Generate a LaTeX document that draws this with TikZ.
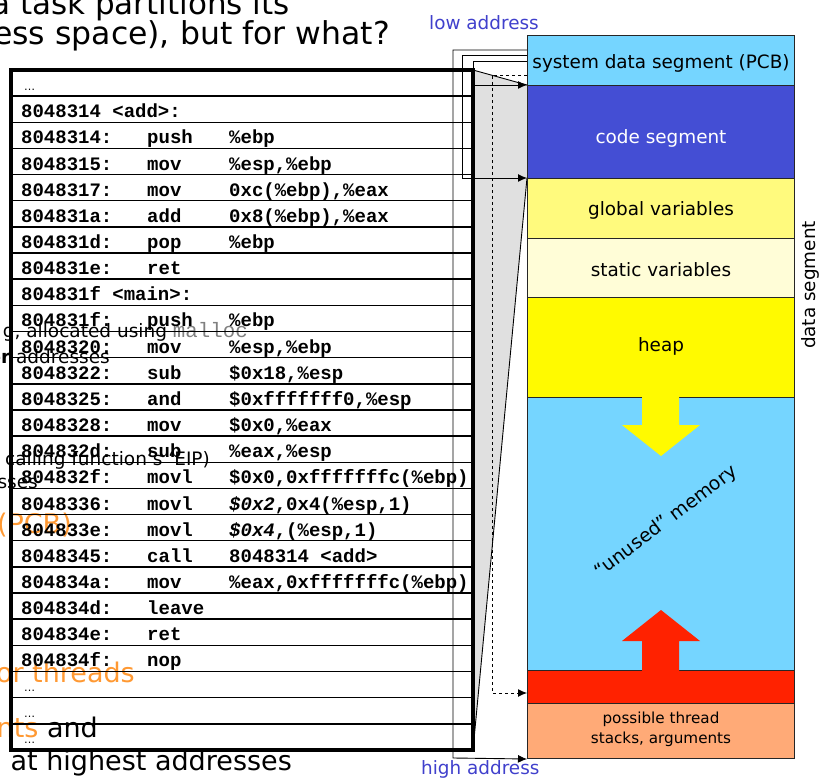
\documentclass[tikz,border=0pt]{standalone}
\usepackage{fontspec}
\setmainfont{DejaVu Sans}
\newfontfamily\codefont{Liberation Mono}
\usetikzlibrary{arrows.meta}

\definecolor{segcyan}{RGB}{117,213,255}
\definecolor{segblue}{RGB}{68,78,212}
\definecolor{segglobal}{RGB}{255,250,125}
\definecolor{segstatic}{RGB}{255,253,215}
\definecolor{segheap}{RGB}{255,250,0}
\definecolor{segred}{RGB}{255,34,0}
\definecolor{segorange}{RGB}{255,170,119}
\definecolor{addrblue}{RGB}{64,64,204}
\definecolor{slideorange}{RGB}{255,153,51}
\definecolor{calloutgray}{RGB}{224,224,224}

\tikzset{
  seg/.style={draw=black!85, line width=1pt, inner sep=0pt, minimum width=267pt,
    anchor=north west},
  seglabel/.style={inner sep=0pt, font=\fontsize{18.4}{22}\selectfont},
  codetxt/.style={anchor=base west, inner sep=0pt, font=\codefont\bfseries\fontsize{19}{22}\selectfont},
  dotstxt/.style={anchor=base west, inner sep=0pt, font=\fontsize{11}{13}\selectfont},
  slide/.style={anchor=base east, inner sep=0pt, font=\fontsize{18.5}{22}\selectfont},
  slidebig/.style={anchor=base east, inner sep=0pt, font=\fontsize{27}{32}\selectfont},
  slidetitle/.style={anchor=base east, inner sep=0pt, font=\fontsize{31}{36}\selectfont},
  addr/.style={anchor=base west, inner sep=0pt, text=addrblue, font=\fontsize{18.4}{22}\selectfont},
  link/.style={line width=0.9pt},
  tip/.style={-{Latex[length=9pt,width=8pt]}},
  rowline/.style={line width=1.5pt},
}

% listing rows: index, address, mnemonic, operands
\newcommand\coderow[4]{%
  \node[codetxt] (adr#1) at (21,{70+26.15*(#1+1)-4.5}) {#2};
  \node[codetxt] (mn#1) at (147,{70+26.15*(#1+1)-4.5}) {#3};
  \node[codetxt] (op#1) at (229,{70+26.15*(#1+1)-4.5}) {#4};
}
\newcommand\insrow[3]{%
  \node[codetxt] (adr#1) at (21,{70+26.15*(#1+1)-4.5}) {#2};
  \node[codetxt] (mn#1) at (147,{70+26.15*(#1+1)-4.5}) {#3};
}
\newcommand\labelrow[2]{%
  \node[codetxt] (lbl#1) at (21,{70+26.15*(#1+1)-4.5}) {#2};
}
\newcommand\dotsrow[1]{%
  \node[dotstxt] (dots#1) at (24,{70+26.15*(#1+1)-6}) {…};
}

\begin{document}
\begin{tikzpicture}[x=1pt,y=-1pt]
\useasboundingbox (0,0) rectangle (823,778);
\begin{scope}
\clip (0,0) rectangle (823,778);

% bullet text lying behind the listing
\node[slidetitle] (t1) at (290,15) {a task partitions its};
\node[slidetitle, font=\fontsize{31.5}{36}\selectfont] (t2) at (390,45) {ess space), but for what?};
\node[slide] (t3) at (248,338) {g, allocated using {\codefont\color{gray}\fontsize{20.8}{24}\selectfont malloc}};
\node[slide] (t4) at (110,363) {\textbf{er} addresses};
\node[slide] (t5) at (210,465) {calling function’s ‘EIP)};
\node[slide] (t6) at (38,488) {sses};
\node[slidebig, text=slideorange] (t7) at (72,533) {(PCB)};
\node[slidebig, text=slideorange] (t8) at (135,682) {or threads};
\node[slidebig] (t9) at (98,737) {\textcolor{slideorange}{nts} and};
\node[slidebig] (t10) at (292,770) {at highest addresses};

% callout wedge from the listing to the code segment
\fill[calloutgray] (473,70) -- (527,85) -- (527,178) -- (473,750) -- cycle;
\draw[link] (473,70) -- (527,85);
\draw[link] (527,178) -- (473,750);

% listing grid
\foreach \k in {1,...,25} \draw[rowline] (11,{70+26.15*\k}) -- (473,{70+26.15*\k});
\draw[line width=3.5pt] (11,70) rectangle (473,750);

% listing text
\dotsrow{0}
\labelrow{1}{8048314 <add>:}
\coderow{2}{8048314:}{push}{\%ebp}
\coderow{3}{8048315:}{mov}{\%esp,\%ebp}
\coderow{4}{8048317:}{mov}{0xc(\%ebp),\%eax}
\coderow{5}{804831a:}{add}{0x8(\%ebp),\%eax}
\coderow{6}{804831d:}{pop}{\%ebp}
\insrow{7}{804831e:}{ret}
\labelrow{8}{804831f <main>:}
\coderow{9}{804831f:}{push}{\%ebp}
\coderow{10}{8048320:}{mov}{\%esp,\%ebp}
\coderow{11}{8048322:}{sub}{\$0x18,\%esp}
\coderow{12}{8048325:}{and}{\$0xfffffff0,\%esp}
\coderow{13}{8048328:}{mov}{\$0x0,\%eax}
\coderow{14}{804832d:}{sub}{\%eax,\%esp}
\coderow{15}{804832f:}{movl}{\$0x0,0xfffffffc(\%ebp)}
\coderow{16}{8048336:}{movl}{{\itshape\$0x2},0x4(\%esp,1)}
\coderow{17}{804833e:}{movl}{{\itshape\$0x4},(\%esp,1)}
\coderow{18}{8048345:}{call}{8048314 <add>}
\coderow{19}{804834a:}{mov}{\%eax,0xfffffffc(\%ebp)}
\insrow{20}{804834d:}{leave}
\insrow{21}{804834e:}{ret}
\insrow{22}{804834f:}{nop}
\dotsrow{23}
\dotsrow{24}
\dotsrow{25}

% memory layout column
\node[seg, fill=segcyan, minimum height=50pt] (pcb) at (527,35) {};
\node[seg, fill=segblue, minimum height=93pt] (code) at (527,85) {};
\node[seg, fill=segglobal, minimum height=60pt] (glob) at (527,178) {};
\node[seg, fill=segstatic, minimum height=59pt] (stat) at (527,238) {};
\node[seg, fill=segheap, minimum height=100pt] (heap) at (527,297) {};
\node[seg, fill=segcyan, minimum height=273pt] (free) at (527,397) {};
\node[seg, fill=segred, minimum height=33pt] (stk) at (527,670) {};
\node[seg, fill=segorange, minimum height=55pt] (args) at (527,703) {};

\node[seglabel, yshift=-3pt] (pcbtxt) at (pcb.center) {system data segment (PCB)};
\node[seglabel, yshift=-6pt, text=white] (codetxt) at (code.center) {code segment};
\node[seglabel, yshift=-1.5pt] (globtxt) at (glob.center) {global variables};
\node[seglabel, yshift=-1.5pt] (stattxt) at (stat.center) {static variables};
\node[seglabel, yshift=1pt] (heaptxt) at (heap.center) {heap};
\node[seglabel, yshift=2pt, align=center, font=\fontsize{15.2}{20}\selectfont] (argstxt) at (args.center)
  {possible thread\\stacks, arguments};

% growth arrows of heap and stack
\fill[segheap] (642,396) -- (679,396) -- (679,425) -- (700,425) -- (661,456)
  -- (622,425) -- (642,425) -- cycle;
\fill[segred] (642,671) -- (642,641) -- (622,641) -- (661,610) -- (700,641)
  -- (679,641) -- (679,671) -- cycle;
\node[rotate=37, inner sep=0pt, font=\fontsize{18.8}{22}\selectfont] (unused) at (666,522) {“unused” memory};

\node[rotate=90, inner sep=0pt, font=\fontsize{18.4}{22}\selectfont] (dataseg) at (810,285) {data segment};

\node[addr] (low) at (429,30) {low address};
\node[addr] (high) at (421,774) {high address};

% address connectors
\coordinate (c1a) at (527,50);
\coordinate (c1b) at (453,50);
\coordinate (c1c) at (453,758);
\draw[link,tip] (c1a) -- (c1b) -- (c1c) -- (args.south west);

\coordinate (c2a) at (527,55);
\coordinate (c2b) at (462,55);
\coordinate (c2c) at (462,178);
\draw[link,tip] (c2a) -- (c2b) -- (c2c) -- (glob.north west);

\coordinate (c3a) at (527,61);
\coordinate (c3b) at (473,61);
\coordinate (c3c) at (473,85);
\draw[link,tip] (c3a) -- (c3b) -- (c3c) -- (code.north west);

\coordinate (c4a) at (527,75);
\coordinate (c4b) at (492,75);
\coordinate (c4c) at (492,693);
\coordinate (c4d) at (527,693);
\draw[link,dashed,tip] (c4a) -- (c4b) -- (c4c) -- (c4d);

\end{scope}
\end{tikzpicture}
\end{document}
